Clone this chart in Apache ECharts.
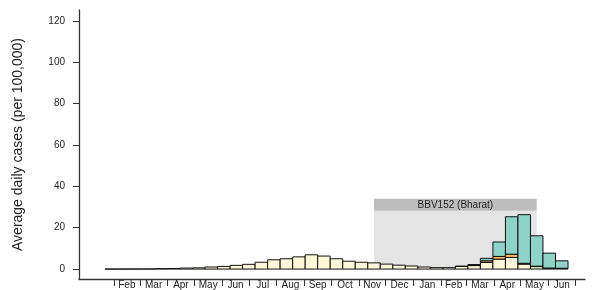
<!DOCTYPE html>
<html>
<head>
<meta charset="utf-8">
<script src="https://cdn.jsdelivr.net/npm/echarts@6/dist/echarts.min.js"></script>
<style>
  html, body { margin: 0; padding: 0; background: #fff; }
  #chart { width: 598px; height: 290px; }
</style>
</head>
<body>
<div id="chart"></div>
<script>
  // fortnightly bins starting 22 Jan 2020
  const binStart = '2020-01-22'
  const binDays = 14
  // average daily cases per 100,000, by variant
  const otherCases = [0.01, 0.02, 0.03, 0.05, 0.2, 0.3, 0.5, 0.6, 1.0, 1.3, 1.8, 2.3, 3.3, 4.5, 5.0, 5.9, 6.9, 6.3, 5.0,
    3.8, 3.3, 3.0, 2.4, 1.9, 1.5, 1.0, 0.7, 0.7, 1.3, 1.7, 3.2, 4.8, 5.6, 2.4, 1.2, 0.4, 0.3]
  const alphaCases = [0, 0, 0, 0, 0, 0, 0, 0, 0, 0, 0, 0, 0, 0, 0, 0, 0, 0, 0,
    0, 0, 0, 0, 0, 0, 0, 0, 0, 0.05, 0.3, 0.8, 1.3, 1.6, 0.4, 0.2, 0.1, 0.1]
  const deltaCases = [0, 0, 0, 0, 0, 0, 0, 0, 0, 0, 0, 0, 0, 0, 0, 0, 0, 0, 0,
    0, 0, 0, 0, 0, 0, 0, 0, 0, 0, 0.1, 1.2, 7.0, 18.1, 23.5, 14.7, 7.2, 3.6]
  const layerColors = ['#fff8d8', '#fdb462', '#8dd3c7']

  const monthNames = ['Feb', 'Mar', 'Apr', 'May', 'Jun', 'Jul', 'Aug', 'Sep', 'Oct', 'Nov', 'Dec',
    'Jan', 'Feb', 'Mar', 'Apr', 'May', 'Jun']
  const yTicks = [0, 20, 40, 60, 80, 100, 120]

  // vaccine period (BBV152)
  const vaccineLabel = 'BBV152 (Bharat)'
  const vaccineFrom = '2020-11-18'
  const vaccineTo = '2021-05-19'
  const vaccineTop = 34
  const vaccineHeader = 28.2

  const DAY = 86400000
  const t0 = new Date(binStart + 'T00:00:00Z').getTime()
  const toDay = s => (new Date(s + 'T00:00:00Z').getTime() - t0) / DAY

  // month boundaries and mid points
  const monthTicks = []
  const monthMids = []
  const midName = {}
  for (let i = 0; i <= monthNames.length; i++) {
    const d = Date.UTC(2020, 1 + i, 1)
    monthTicks.push((d - t0) / DAY)
  }
  for (let i = 0; i < monthNames.length; i++) {
    const m = (monthTicks[i] + monthTicks[i + 1]) / 2
    monthMids.push(m)
    midName[m] = monthNames[i]
  }

  // stacked rect segments
  let segs = []
  for (let i = 0; i < otherCases.length; i++) {
    const vals = [otherCases[i], alphaCases[i], deltaCases[i]]
    let base = 0
    for (let j = 0; j < 3; j++) {
      if (j > 0 && vals[j] === 0) continue
      segs.push([i * binDays, (i + 1) * binDays, base, base + vals[j], j])
      base += vals[j]
    }
  }

  const myChart = echarts.init(document.getElementById('chart'))
  const font = 'Liberation Sans, Arial, sans-serif'
  const option = {
    animation: false,
    grid: { left: 79, right: 13, top: 10, bottom: 11 },
    xAxis: [
      {
        type: 'value', min: -29, max: 537,
        axisLine: { show: true, onZero: false, lineStyle: { color: '#333', width: 1.3 } },
        axisTick: { show: false }, axisLabel: { show: false }, splitLine: { show: false }
      },
      {
        type: 'value', min: -29, max: 537, position: 'bottom', offset: 1,
        axisLine: { show: false, onZero: false },
        axisTick: { show: true, customValues: monthTicks, length: 6, lineStyle: { color: '#333', width: 1 } },
        axisLabel: {
          show: true, customValues: monthMids, margin: 0, fontSize: 10, color: '#222', fontFamily: font,
          formatter: v => midName[v] || ''
        },
        splitLine: { show: false }
      }
    ],
    yAxis: {
      type: 'value', min: -4.8, max: 125.3,
      name: 'Average daily cases (per 100,000)',
      nameLocation: 'middle', nameGap: 54,
      nameTextStyle: { fontSize: 14, color: '#222', fontFamily: font },
      axisLine: { show: true, onZero: false, lineStyle: { color: '#333', width: 1.3 } },
      axisTick: { show: true, customValues: yTicks, length: 6, lineStyle: { color: '#333' } },
      axisLabel: { customValues: yTicks, margin: 14, fontSize: 10, color: '#222', fontFamily: font },
      splitLine: { show: false }
    },
    series: [
      {
        type: 'line', data: [], z: 1,
        markArea: {
          silent: true,
          data: [
            [{ xAxis: toDay(vaccineFrom), yAxis: 0, itemStyle: { color: '#e4e4e4' } },
             { xAxis: toDay(vaccineTo), yAxis: vaccineHeader }],
            [{ xAxis: toDay(vaccineFrom), yAxis: vaccineHeader, itemStyle: { color: '#bdbdbd' },
               label: { show: true, position: 'inside', formatter: vaccineLabel, fontSize: 10, color: '#222', fontFamily: font } },
             { xAxis: toDay(vaccineTo), yAxis: vaccineTop }]
          ]
        }
      },
      {
        type: 'custom', z: 3,
        renderItem: (params, api) => {
          const p0 = api.coord([api.value(0), api.value(2)])
          const p1 = api.coord([api.value(1), api.value(3)])
          return {
            type: 'rect',
            shape: { x: p0[0], y: p1[1], width: p1[0] - p0[0], height: p0[1] - p1[1] },
            style: { fill: layerColors[api.value(4)], stroke: '#111', lineWidth: 1 }
          }
        },
        encode: { x: [0, 1], y: [2, 3] },
        data: segs
      }
    ]
  }
  myChart.setOption(option)
</script>
</body>
</html>
